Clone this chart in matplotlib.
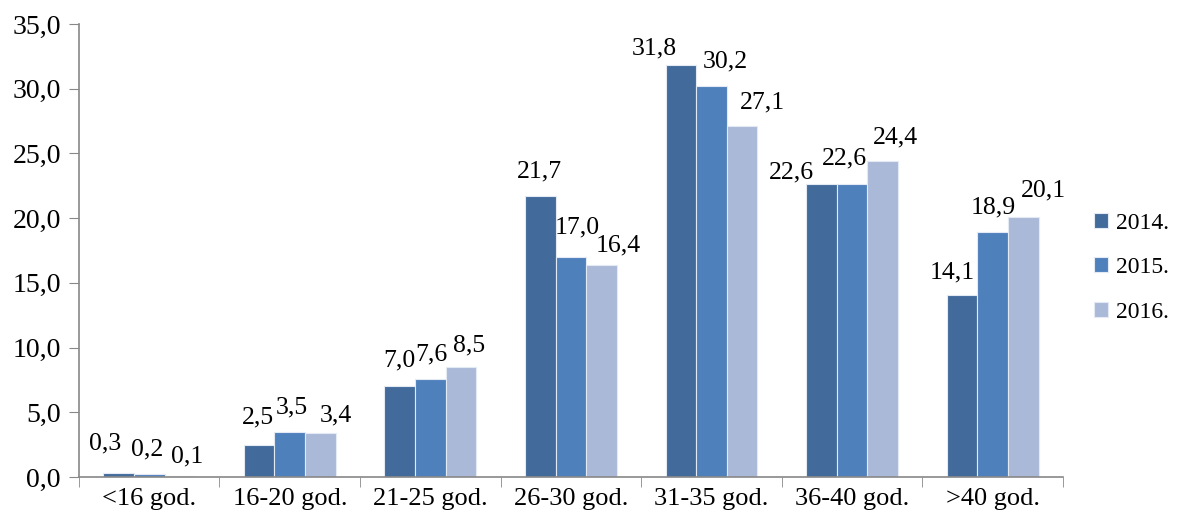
import numpy as np
import matplotlib.pyplot as plt
from matplotlib.ticker import FuncFormatter, FixedLocator

categories = ["<16 god.", "16-20 god.", "21-25 god.", "26-30 god.",
              "31-35 god.", "36-40 god.", ">40 god."]
years = ["2014.", "2015.", "2016."]
v2014 = [0.3, 2.5, 7.0, 21.7, 31.8, 22.6, 14.1]
v2015 = [0.2, 3.5, 7.6, 17.0, 30.2, 22.6, 18.9]
v2016 = [0.1, 3.4, 8.5, 16.4, 27.1, 24.4, 20.1]
colors = ["#426A9B", "#4E80BC", "#AAB9D7"]

# manual label nudges (pixels), like the hand-placed labels of the original
label_dx = [[-13, -1, 0, -1, -27, -30, -10],
            [-2, 2, 1, 6, 14, -8, 1],
            [7, 15, 8, 17, 20, 13, 20]]
label_dy = [[30, 27, 26, 25, 17, 12, 22],
            [25, 24, 24, 30, 25, 26, 25],
            [19, 18, 22, 19, 24, 24, 26]]

plt.rcParams["font.family"] = ["Liberation Serif", "DejaVu Serif"]

fig = plt.figure(figsize=(11.78, 5.24), dpi=100)
ax = fig.add_axes([0.067, 0.0897, 0.8353, 0.8645])

x = np.arange(len(categories))
w = 0.218
for i, (vals, yr, c) in enumerate(zip([v2014, v2015, v2016], years, colors)):
    pos = x + (i - 1) * w
    ax.bar(pos, vals, width=w, color=c, label=yr, edgecolor="#E4EAF3",
           linewidth=0.8)
    for j, (xp, v) in enumerate(zip(pos, vals)):
        ax.annotate(f"{v:.1f}".replace(".", ","), (xp, v),
                    xytext=(label_dx[i][j], label_dy[i][j]),
                    textcoords="offset pixels", ha="center", va="center",
                    fontsize=18.5)

ax.set_xlim(-0.5, len(categories) - 0.5)
ax.set_ylim(0, 35)
ax.set_yticks(np.arange(0, 36, 5))
ax.yaxis.set_major_formatter(FuncFormatter(lambda v, p: f"{v:.1f}".replace(".", ",")))
ax.set_xticks(x)
ax.set_xticklabels(categories)
ax.xaxis.set_minor_locator(FixedLocator(np.arange(-0.5, len(categories), 1.0)))
ax.tick_params(axis="x", which="major", length=0, labelsize=19, pad=8)
ax.tick_params(axis="x", which="minor", length=7, color="#888888", direction="out")
ax.tick_params(axis="y", length=7, color="#888888", labelsize=20, pad=6)

for s in ["top", "right"]:
    ax.spines[s].set_visible(False)
for s in ["left", "bottom"]:
    ax.spines[s].set_color("#888888")
    ax.spines[s].set_linewidth(1.2)

ax.legend(loc="center left", bbox_to_anchor=(1.022, 0.462), frameon=False,
          fontsize=17, handlelength=0.6, handleheight=0.6, labelspacing=1.0,
          handletextpad=0.35, borderaxespad=0)

fig.savefig("out.png", dpi=100)
